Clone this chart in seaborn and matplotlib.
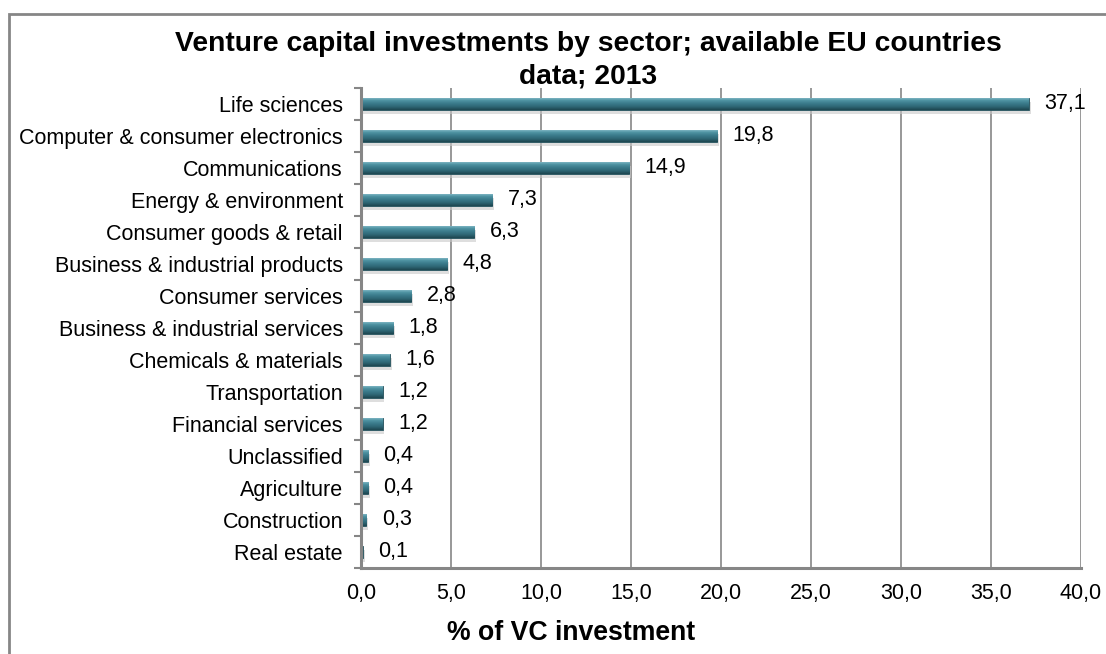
import numpy as np
import pandas as pd
import matplotlib
matplotlib.use("Agg")
import matplotlib.pyplot as plt
from matplotlib.patches import Rectangle
from matplotlib.ticker import FixedLocator, FuncFormatter
import seaborn as sns

sectors = [
    "Life sciences", "Computer & consumer electronics", "Communications",
    "Energy & environment", "Consumer goods & retail",
    "Business & industrial products", "Consumer services",
    "Business & industrial services", "Chemicals & materials",
    "Transportation", "Financial services", "Unclassified", "Agriculture",
    "Construction", "Real estate",
]
shares = [37.1, 19.8, 14.9, 7.3, 6.3, 4.8, 2.8, 1.8, 1.6, 1.2, 1.2, 0.4, 0.4, 0.3, 0.1]
x_ticks = [0, 5, 10, 15, 20, 25, 30, 35, 40]

df = pd.DataFrame({"sector": sectors, "share": shares})

sns.set_theme(style="white")
plt.rcParams["font.family"] = ["Liberation Sans", "DejaVu Sans"]
plt.rcParams["text.color"] = "black"

W, H = 1106, 654
fig = plt.figure(figsize=(W / 100, H / 100), dpi=100)
ax = fig.add_axes([361 / W, 1 - 568 / H, (1081 - 361) / W, (568 - 88) / H])

grey = "#868686"
sns.barplot(data=df, x="share", y="sector", orient="h", ax=ax,
            color="#3b7d8d", width=0.38, edgecolor="#24505b", linewidth=0.6,
            saturation=1)

# Glossy vertical gradient on each bar, with a soft drop shadow
grad = np.linspace(0, 1, 64).reshape(-1, 1)
cmap = matplotlib.colors.LinearSegmentedColormap.from_list(
    "bevel", ["#8fc2cf", "#4f93a3", "#3a7a8a", "#2e6674", "#1d4650"])
for p in list(ax.patches):
    x0, y0 = p.get_x(), p.get_y()
    w, h = p.get_width(), p.get_height()
    shadow = Rectangle((x0 + 0.1, y0 + 0.12), w, h, facecolor="#c8c8c8",
                       edgecolor="none", alpha=0.6, zorder=p.get_zorder() - 0.1)
    ax.add_patch(shadow)
    im = ax.imshow(grad, cmap=cmap, aspect="auto", extent=[x0, x0 + w, y0 + h, y0],
                   zorder=p.get_zorder() + 0.1, interpolation="bilinear")
    im.set_clip_path(p)

ax.set_xlim(0, 40)
ax.set_ylim(len(sectors) - 0.5, -0.5)
ax.xaxis.set_major_locator(FixedLocator(x_ticks))
ax.xaxis.set_major_formatter(FuncFormatter(lambda v, _: f"{v:.1f}".replace(".", ",")))
ax.grid(axis="x", color=grey, linewidth=1.2)
ax.set_axisbelow(True)

for s in ["top", "right"]:
    ax.spines[s].set_visible(False)
for s in ["left", "bottom"]:
    ax.spines[s].set_color(grey)
    ax.spines[s].set_linewidth(2.2)

ax.tick_params(axis="x", length=0, pad=11, labelsize=15.5, labelcolor="black")
ax.tick_params(axis="y", which="major", length=0, pad=13, labelsize=15.5, labelcolor="black")
ax.set_yticks(np.arange(len(sectors) + 1) - 0.5, minor=True)
ax.tick_params(axis="y", which="minor", length=5, width=1.5, color=grey, left=True)
ax.set_ylabel("")
ax.set_xlabel("")

for i, v in enumerate(shares):
    ax.annotate(f"{v:.1f}".replace(".", ","), xy=(v, i), xytext=(11, 0),
                textcoords="offset points", va="center", ha="left",
                fontsize=15.5, color="black")

fig.text(571 / W, 1 - 633 / H, "% of VC investment",
         ha="center", va="center", fontsize=19.2, fontweight="bold")

fig.text(588 / W, 1 - 60 / H,
         "Venture capital investments by sector; available EU countries\ndata; 2013",
         ha="center", va="center", fontsize=20.3, fontweight="bold", linespacing=1.3)

# Chart frame
fig.patches.append(Rectangle((9 / W, -0.05), 1.2, 1 - 14 / H + 0.05,
                             transform=fig.transFigure, fill=False,
                             edgecolor=grey, linewidth=2, zorder=0))

fig.savefig("out.png", dpi=100)
